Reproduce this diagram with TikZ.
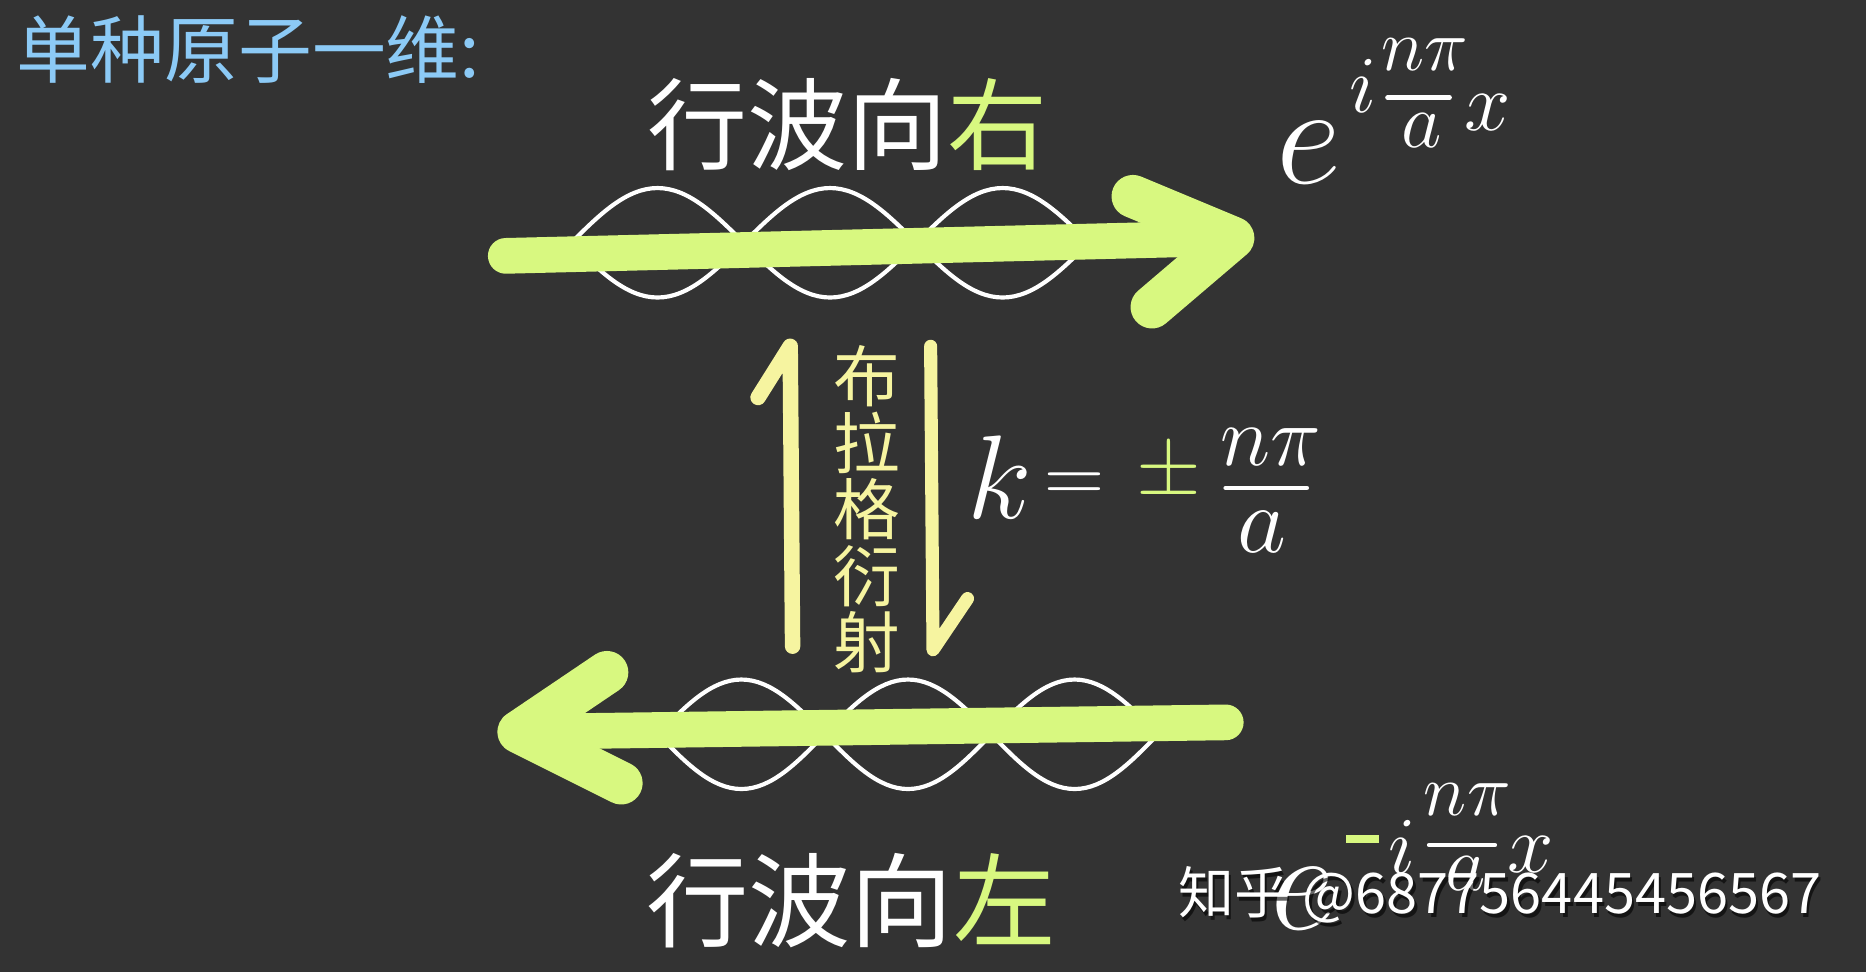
\RequirePackage{fix-cm}
\documentclass[tikz,border=0pt]{standalone}
\usepackage{fontspec}
\usepackage{amsmath}
\newfontfamily\cjk{Noto Sans CJK SC}
\usetikzlibrary{calc}
\definecolor{board}{RGB}{51,51,51}
\definecolor{chalkgreen}{RGB}{216,248,128}
\definecolor{chalkyellow}{RGB}{246,244,160}
\definecolor{chalkblue}{RGB}{140,202,246}
\newcommand{\sz}[1]{\fontsize{#1}{#1}\selectfont}

\begin{document}
\begin{tikzpicture}[x=1pt,y=-1pt,
  wave/.style={draw=white,line width=3.5pt},
  beam/.style={draw=chalkgreen,line width=30pt,line cap=round,line join=round},
  bragg/.style={draw=chalkyellow,line width=13pt,line cap=round,line join=round},
  bar/.style={draw=white,line width=4pt,line cap=round},
  chalk/.style={text=white,inner sep=0pt},
  sym/.style={chalk,font=\fontsize{#1}{#1}\selectfont}]
\fill[board] (0,0) rectangle (1568,817);
\useasboundingbox (0,0) rectangle (1568,817);

\node[chalk,text=chalkblue,anchor=west] (title) at (14,42) {\cjk\sz{62}单种原子一维:};

% wave travelling right
\foreach \x in {480,625,770} {
  \draw[wave] (\x,204) sin ({\x+72.5},158) cos ({\x+145},204);
  \draw[wave] (\x,204) sin ({\x+72.5},250) cos ({\x+145},204);
}
\coordinate (rtail) at (425,215);
\coordinate (rtip) at (1036,200);
\coordinate (rwingA) at (952,165);
\coordinate (rwingB) at (968,258);
\draw[beam] (rtail) -- (rtip);
\draw[beam,line width=36pt] (rwingA) -- (rtip) -- (rwingB);
\node[chalk] (right) at (712,105) {\cjk\sz{84}行波向\textcolor{chalkgreen}{右}};

\node[sym=120] (eR) at (1100,128) {$e$};
\node[sym=68] (iR) at (1145,72) {$i$};
\node[sym=62] (numR) at (1197,46) {$n\pi$};
\node[sym=66] (denR) at (1195,110) {$a$};
\draw[bar] (1166,82) -- (1218,82);
\node[sym=70] (xR) at (1250,95) {$x$};

% wave travelling left
\foreach \x in {553,693,833} {
  \draw[wave] (\x,617) sin ({\x+70},571) cos ({\x+140},617);
  \draw[wave] (\x,617) sin ({\x+70},663) cos ({\x+140},617);
}
\coordinate (ltail) at (1030,607);
\coordinate (ltip) at (436,615);
\coordinate (lwingA) at (510,565);
\coordinate (lwingB) at (522,658);
\draw[beam] (ltail) -- (ltip);
\draw[beam,line width=36pt] (lwingA) -- (ltip) -- (lwingB);
\node[chalk] (left) at (715,757) {\cjk\sz{86}行波向\textcolor{chalkgreen}{左}};

% Bragg reflection
\coordinate (uptail) at (666,543);
\coordinate (uphead) at (664,291);
\coordinate (uphook) at (637,334);
\draw[bragg] (uptail) -- (uphead) -- (uphook);
\coordinate (dntail) at (782,291);
\coordinate (dnhead) at (784,546);
\coordinate (dnhook) at (813,503);
\draw[bragg,line width=11pt] (dntail) -- (dnhead) -- (dnhook);
\node[chalk,text=chalkyellow,align=center,font=\cjk\fontsize{56}{56}\selectfont] (bragg) at (728,428) {布\\拉\\格\\衍\\射};

\node[sym=100] (k) at (840,401) {$k$};
\node[sym=70] (eq) at (903,410) {$=$};
\node[sym=70,text=chalkgreen] (pm) at (982,398) {$\pm$};
\node[sym=72] (numK) at (1068,376) {$n\pi$};
\node[sym=80] (denK) at (1060,447) {$a$};
\draw[bar] (1030,410) -- (1098,410);

\node[sym=120] (eL) at (1095,755) {$e$};
\node[chalk,text=chalkgreen] (mL) at (1145,705) {\rule{28pt}{6pt}};
\node[sym=68] (iL) at (1178,712) {$i$};
\node[sym=62] (numL) at (1233,672) {$n\pi$};
\node[sym=66] (denL) at (1232,734) {$a$};
\draw[bar] (1201,710) -- (1256,710);
\node[sym=70] (xL) at (1286,718) {$x$};

\node[chalk,text=black,opacity=0.6,anchor=west] (markshadow) at (992,755) {\cjk\sz{47}知乎 @687756445456567};
\node[chalk,anchor=west] (mark) at (990,752) {\cjk\sz{47}知乎 @687756445456567};
\end{tikzpicture}
\end{document}
